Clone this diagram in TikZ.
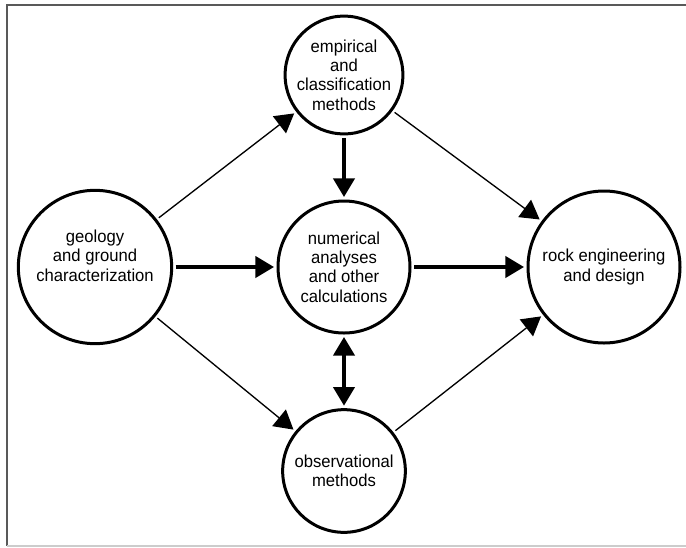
\documentclass[tikz,border=0pt]{standalone}
\usepackage{fontspec}
\setmainfont{Liberation Sans}[FakeStretch=0.96]
\usetikzlibrary{arrows.meta}
\begin{document}
\begin{tikzpicture}[x=0.75pt,y=-0.75pt,
  bola/.style={circle, draw, line width=2.25pt, align=center, inner sep=0pt,
    outer sep=3pt, font=\fontsize{13}{14.6}\selectfont},
  fina/.style={line width=1pt, -{Triangle[length=14pt,width=16pt]}},
  grossa/.style={line width=2.4pt, -{Triangle[length=14pt,width=16pt]}}]
  % Posicoes dos centros (em pixels)
  \def\xgeo{95}
  \def\xmid{344}
  \def\xrock{604}
  \def\ytop{75}
  \def\ymid{267}
  \def\ybot{471}
  % Moldura
  \useasboundingbox (0,0) rectangle (686,547);
  \draw[black!65, line width=1.5pt] (7,546) -- (7,5) -- (686,5);
  \draw[black!20, line width=1pt] (7,546) -- (686,546);
  % Circulos
  \node[bola, minimum size=115pt] (geo) at (\xgeo,\ymid)
    {\raisebox{4pt}[0pt][0pt]{\begin{tabular}{@{}c@{}}geology\\and ground\\characterization\end{tabular}}};
  \node[bola, minimum size=85pt] (emp) at (\xmid,\ytop) {empirical\\and\\classification\\methods};
  \node[bola, minimum size=99pt] (num) at (\xmid,\ymid) {numerical\\analyses\\and other\\calculations};
  \node[bola, minimum size=114pt] (rock) at (\xrock,\ymid) {rock engineering\\and design};
  \node[bola, minimum size=92pt] (obs) at (\xmid,\ybot) {observational\\methods};
  % Setas finas (diagonais)
  \draw[fina] (geo) -- (emp);
  \draw[fina] (geo) -- (obs);
  \draw[fina] (emp) -- (rock);
  \draw[fina] (obs) -- (rock);
  % Setas grossas
  \draw[grossa] (geo) -- (num);
  \draw[grossa] (num) -- (rock);
  \draw[grossa] (emp) -- (num);
  \draw[grossa, {Triangle[length=14pt,width=16pt]}-{Triangle[length=14pt,width=16pt]}] (num) -- (obs);
\end{tikzpicture}
\end{document}
